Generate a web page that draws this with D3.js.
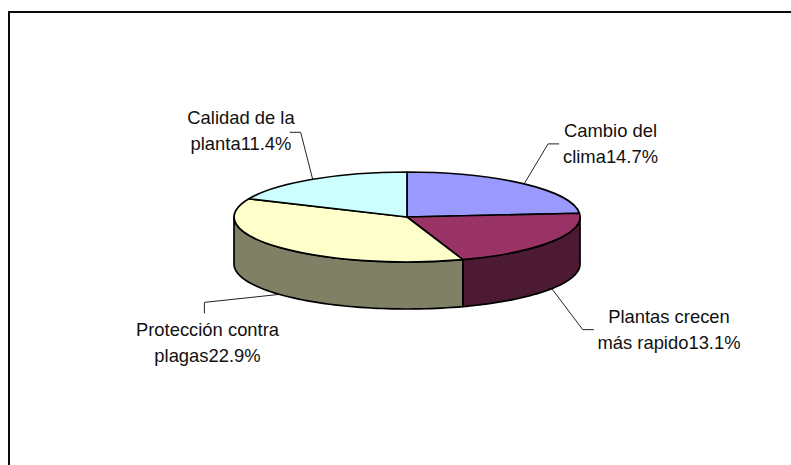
<!DOCTYPE html>
<html>
<head>
<meta charset="utf-8">
<script src="https://cdn.jsdelivr.net/npm/d3@7"></script>
<style>
  html, body { margin: 0; padding: 0; background: #fff; }
  svg { display: block; }
  text { font-family: "Liberation Sans", Arial, sans-serif; font-size: 18.4px; fill: #111; }
</style>
</head>
<body>
<div id="chart"></div>
<script>
// values as printed on the labels
const categories = ["Cambio del clima", "Plantas crecen más rapido", "Protección contra plagas", "Calidad de la planta"];
const values = [14.7, 13.1, 22.9, 11.4];
const labelLines = [
  ["Cambio del", "clima14.7%"],
  ["Plantas crecen", "más rapido13.1%"],
  ["Protección contra", "plagas22.9%"],
  ["Calidad de la", "planta11.4%"]
];
const topColors = ["#9999ff", "#993366", "#ffffcc", "#ccffff"];
const sideColors = ["#4d4d80", "#4d1a33", "#808066", "#668080"];

// label layout, [x centre, first baseline]
const labelPos = [[610.5, 137], [669, 323], [207.5, 336], [241, 124]];
// leader elbows, relative to the point on the rim
const elbows = [
  [[24, -40], [35, -40]],
  [[31, 41], [42, 41]],
  [[-75, 8], [-75, 19]],
  [[-12, -47], [-23, -47]]
];

const W = 791, H = 465;
const cx = 407, cy = 217, rx = 173, ry = 45, depth = 47;

const svg = d3.select("#chart").append("svg")
  .attr("width", W)
  .attr("height", H);

// frame: only top and left edges show in this crop
svg.append("path")
  .attr("d", d3.line()([[W, 12], [9, 12], [9, H]]))
  .attr("fill", "none")
  .attr("stroke", "#0a0a0a")
  .attr("stroke-width", 2);

const pie = d3.pie().sort(null).value(d => d)(values);

// scales map the unit circle of the pie onto the tilted ellipse
const px = d3.scaleLinear().domain([-1, 1]).range([cx - rx, cx + rx]);
const py = d3.scaleLinear().domain([-1, 1]).range([cy - ry, cy + ry]);
const rim = (a, drop) => [px(Math.sin(a)), py(-Math.cos(a)) + (drop || 0)];
const inFront = a => a > Math.PI / 2 && a < 3 * Math.PI / 2;

// leader lines
const leaders = svg.append("g");
pie.forEach((d, i) => {
  let mid = (d.startAngle + d.endAngle) / 2,
    p = rim(mid, inFront(mid) ? depth : 0),
    pts = [p].concat(elbows[i].map(e => [p[0] + e[0], p[1] + e[1]]));
  leaders.append("path")
    .attr("d", d3.line()(pts))
    .attr("fill", "none")
    .attr("stroke", "#222")
    .attr("stroke-width", 1);
});

// side wall, only the part facing the viewer
const sides = svg.append("g");
pie.forEach((d, i) => {
  let a0 = Math.max(d.startAngle, Math.PI / 2),
    a1 = Math.min(d.endAngle, 3 * Math.PI / 2);
  if (a1 <= a0) return;
  let steps = d3.range(0, 61).map(k => a0 + (a1 - a0) * k / 60),
    pts = steps.map(a => rim(a, 0)).concat(steps.slice().reverse().map(a => rim(a, depth)));
  sides.append("path")
    .attr("d", d3.line()(pts) + "Z")
    .attr("fill", sideColors[i])
    .attr("stroke", "#000")
    .attr("stroke-width", 1.7)
    .attr("stroke-linejoin", "round");
});

// top face
const arc = d3.arc().innerRadius(0).outerRadius(rx);
svg.append("g")
  .attr("transform", `translate(${cx},${cy}) scale(1,${ry / rx})`)
  .selectAll("path")
  .data(pie)
  .join("path")
  .attr("d", arc)
  .attr("fill", (d, i) => topColors[i])
  .attr("stroke", "#000")
  .attr("stroke-width", 1.7)
  .attr("vector-effect", "non-scaling-stroke")
  .attr("stroke-linejoin", "round");

// labels
labelLines.forEach((lines, i) => {
  svg.append("text")
    .attr("text-anchor", "middle")
    .selectAll("tspan")
    .data(lines)
    .join("tspan")
    .attr("x", labelPos[i][0])
    .attr("y", (d, k) => labelPos[i][1] + k * 25.5)
    .text(d => d);
});
</script>
</body>
</html>
